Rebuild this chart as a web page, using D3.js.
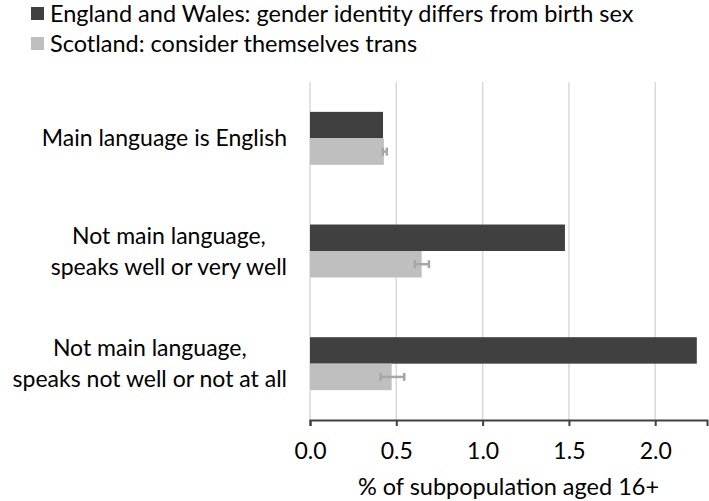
<!DOCTYPE html>
<html>
<head>
<meta charset="utf-8">
<script src="https://cdn.jsdelivr.net/npm/d3@7"></script>
<style>
  body { margin: 0; background: #fff; }
  svg text { font-family: Lato, "Open Sans", sans-serif; fill: #000; }
</style>
</head>
<body>
<div id="chart"></div>
<script>
// data
const categories = [
  ["Main language is English"],
  ["Not main language,", "speaks well or very well"],
  ["Not main language,", "speaks not well or not at all"]
];
const seriesNames = [
  "England and Wales: gender identity differs from birth sex",
  "Scotland: consider themselves trans"
];
const englandWales = [0.423, 1.477, 2.241];
const scotland = [0.428, 0.647, 0.473];
const scotlandLow = [0.422, 0.608, 0.409];
const scotlandHigh = [0.445, 0.689, 0.546];
const xTicks = [0, 0.5, 1.0, 1.5, 2.0];

const W = 709, H = 501;
const margin = { top: 82, right: 2, bottom: 81, left: 310 };
const width = W - margin.left - margin.right,
  height = H - margin.top - margin.bottom;

const svg = d3.select("#chart").append("svg")
  .attr("width", W).attr("height", H);

const g = svg.append("g")
  .attr("transform", `translate(${margin.left},${margin.top})`);

const x = d3.scaleLinear().domain([0, 2.3]).range([0, width]);
const y = d3.scaleBand().domain(d3.range(categories.length)).range([0, height]).paddingInner(0.53).paddingOuter(0.265);
const y2 = d3.scaleBand().domain([0, 1]).range([0, y.bandwidth()]);

// gridlines
g.selectAll(".grid").data(xTicks).join("line")
  .attr("x1", d => x(d)).attr("x2", d => x(d))
  .attr("y1", 0).attr("y2", height)
  .attr("stroke", "#d9d9d9").attr("stroke-width", 1.5);

const series = [englandWales, scotland];
const colors = ["#404040", "#bfbfbf"];

series.forEach((vals, s) => {
  g.selectAll(".bar" + s).data(vals).join("rect")
    .attr("x", x(0))
    .attr("y", (d, i) => y(i) + y2(s))
    .attr("width", d => x(d) - x(0))
    .attr("height", y2.bandwidth())
    .attr("fill", colors[s]);
});

// error bars for Scotland
const err = g.selectAll(".err").data(scotland).join("g")
  .attr("transform", (d, i) => `translate(0,${y(i) + y2(1) + y2.bandwidth() / 2})`);
err.append("line")
  .attr("x1", (d, i) => x(scotlandLow[i])).attr("x2", (d, i) => x(scotlandHigh[i]))
  .attr("stroke", "#a6a6a6").attr("stroke-width", 2.5);
err.append("line")
  .attr("x1", (d, i) => x(scotlandLow[i])).attr("x2", (d, i) => x(scotlandLow[i]))
  .attr("y1", -4).attr("y2", 4)
  .attr("stroke", "#a6a6a6").attr("stroke-width", 2.5);
err.append("line")
  .attr("x1", (d, i) => x(scotlandHigh[i])).attr("x2", (d, i) => x(scotlandHigh[i]))
  .attr("y1", -4).attr("y2", 4)
  .attr("stroke", "#a6a6a6").attr("stroke-width", 2.5);

// x axis
const xAxis = g.append("g")
  .attr("transform", `translate(0,${height})`)
  .call(d3.axisBottom(x).tickValues(xTicks).tickFormat(d3.format(".1f")).tickSizeOuter(0).tickSize(6).tickPadding(17));
xAxis.select(".domain").attr("stroke", "#404040").attr("stroke-width", 2);
xAxis.selectAll(".tick line").attr("stroke", "#404040").attr("stroke-width", 2);
xAxis.selectAll(".tick text").style("font-family", "Lato, sans-serif").style("font-size", "23px").attr("fill", "#000");

svg.append("text")
  .attr("x", margin.left + width / 2).attr("y", 495)
  .attr("text-anchor", "middle").style("font-size", "23.5px")
  .text("% of subpopulation aged 16+");

// category labels, centred as a block that ends near x=287
categories.forEach((lines, i) => {
  const cy = margin.top + y(i) + y.bandwidth() / 2;
  const t = svg.append("text").attr("text-anchor", "middle").style("font-size", "23px");
  const lh = 31;
  lines.forEach((ln, k) => {
    t.append("tspan").attr("x", 0)
      .attr("y", cy + (k - (lines.length - 1) / 2) * lh)
      .attr("dy", "0.35em").text(ln);
  });
  let maxW = 0;
  t.selectAll("tspan").each(function () { maxW = Math.max(maxW, this.getComputedTextLength()); });
  t.selectAll("tspan").attr("x", 287 - maxW / 2);
});

// legend
const legend = svg.append("g");
seriesNames.forEach((name, i) => {
  const ly = 13.5 + i * 30;
  legend.append("rect").attr("x", 31).attr("y", ly - 6.5).attr("width", 13).attr("height", 13).attr("fill", colors[i]);
  legend.append("text").attr("x", 50).attr("y", ly).attr("dy", "0.35em")
    .style("font-size", "23.5px").text(name);
});
</script>
</body>
</html>
